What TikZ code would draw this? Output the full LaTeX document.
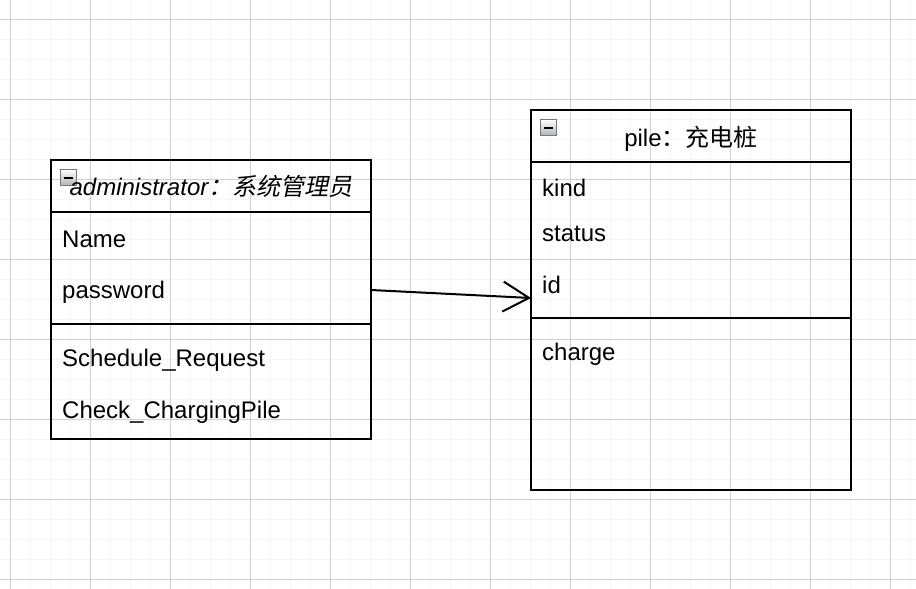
\documentclass[tikz,border=0pt]{standalone}
\usepackage{fontspec}
\setmainfont{Liberation Sans}
\newfontfamily\cjk{Noto Sans CJK SC}
\newfontfamily\cjkit[FakeSlant=0.2]{Noto Sans CJK SC}
\usetikzlibrary{arrows.meta}
\definecolor{gridmajor}{HTML}{D0D0D0}
\definecolor{gridminor}{HTML}{F5F5F5}
\definecolor{iconborder}{HTML}{6F7789}
\tikzset{
  minorgrid/.style={draw=gridminor, line width=1pt},
  majorgrid/.style={draw=gridmajor, line width=1pt},
  umlbox/.style={draw=black, line width=2pt, inner sep=0pt, outer sep=0pt, anchor=north west},
  boxline/.style={draw=black, line width=2pt},
  rowtext/.style={anchor=base west, inner sep=0pt, font=\fontsize{24}{28}\selectfont},
  headtext/.style={anchor=base, inner sep=0pt, font=\fontsize{24}{28}\selectfont},
  icon/.style={draw=iconborder, line width=1.5pt, minimum width=16pt, minimum height=16pt,
    inner sep=0pt, outer sep=0pt, top color=white, bottom color=gray!60,
    path picture={\draw[black, line width=2pt]
      ([xshift=3.5pt]path picture bounding box.west) -- ([xshift=-3.5pt]path picture bounding box.east);}},
  assoc/.style={draw=black, line width=2pt, -{Straight Barb[length=26pt,width=30pt,line width=2pt]}}
}
\begin{document}
\begin{tikzpicture}[x=1pt,y=-1pt]
\useasboundingbox (0,0) rectangle (916,589);
% grid
\foreach \x in {10,30,...,910} \draw[minorgrid] (\x,0) -- (\x,589);
\foreach \y in {19,39,...,589} \draw[minorgrid] (0,\y) -- (916,\y);
\foreach \x in {10,90,...,890} \draw[majorgrid] (\x,0) -- (\x,589);
\foreach \y in {19,99,...,579} \draw[majorgrid] (0,\y) -- (916,\y);
% administrator box
\node[umlbox, minimum width=320pt, minimum height=279pt] (admin) at (51,160) {};
\draw[boxline] (admin.west |- 0,212) -- (admin.east |- 0,212);
\draw[boxline] (admin.west |- 0,324) -- (admin.east |- 0,324);
\node[icon] (iconA) at (68.5,177.5) {};
\node[headtext] (adminT) at (211,195) {\itshape administrator{\cjkit ：系统管理员}};
\node[rowtext] (aName) at (62,247) {Name};
\node[rowtext] (aPass) at (62,298) {password};
\node[rowtext] (aSched) at (62,366) {Schedule\_Request};
\node[rowtext] (aCheck) at (62,418) {Check\_ChargingPile};
% pile box
\node[umlbox, minimum width=320pt, minimum height=380pt] (pile) at (531,110) {};
\draw[boxline] (pile.west |- 0,162) -- (pile.east |- 0,162);
\draw[boxline] (pile.west |- 0,318) -- (pile.east |- 0,318);
\node[icon] (iconP) at (548.5,127.5) {};
\node[headtext] (pileT) at (691,146) {pile{\cjk ：充电桩}};
\node[rowtext] (pKind) at (542,196) {kind};
\node[rowtext] (pStatus) at (542,241) {status};
\node[rowtext] (pId) at (542,293) {id};
\node[rowtext] (pCharge) at (542,360) {charge};
% association
\coordinate (src) at (admin.east |- 0,290);
\coordinate (dst) at (pile.west |- 0,298);
\draw[assoc] (src) -- (dst);
\end{tikzpicture}
\end{document}
